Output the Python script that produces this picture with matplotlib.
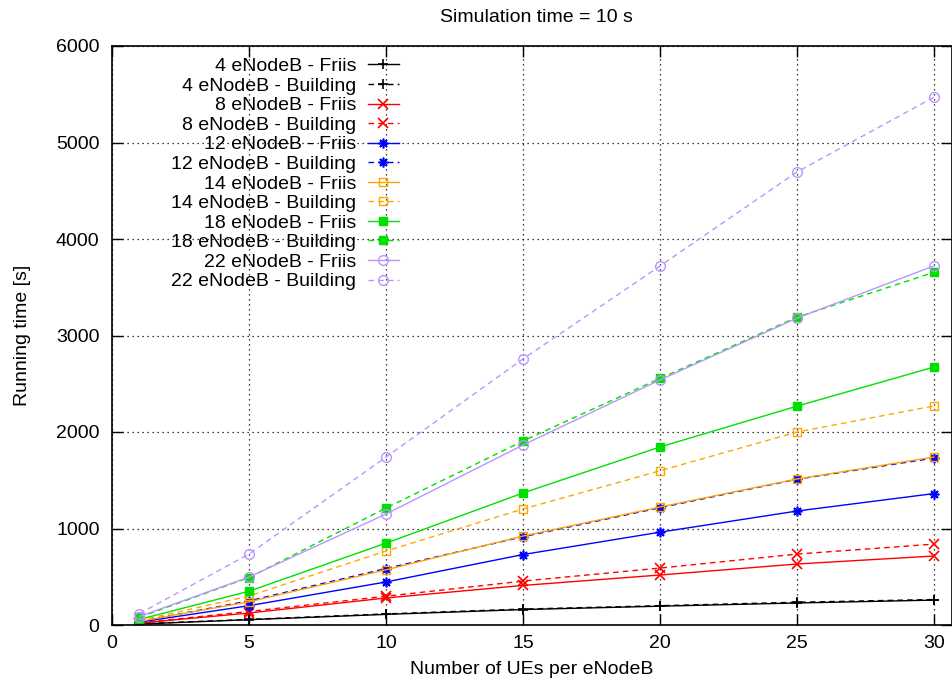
import matplotlib
matplotlib.use("Agg")
import matplotlib.pyplot as plt
from matplotlib.legend_handler import HandlerLine2D
import numpy as np

plt.rcParams['font.family'] = ['Liberation Sans', 'DejaVu Sans']

ues = [1, 5, 10, 15, 20, 25, 30]

enb4_friis = [10, 55, 110, 160, 195, 228, 258]
enb4_building = [12, 58, 115, 165, 200, 236, 264]
enb8_friis = [20, 124, 280, 410, 518, 632, 715]
enb8_building = [22, 140, 298, 455, 590, 735, 838]
enb12_friis = [30, 200, 446, 730, 962, 1181, 1362]
enb12_building = [36, 250, 585, 915, 1215, 1510, 1730]
enb14_friis = [38, 240, 572, 922, 1223, 1513, 1741]
enb14_building = [45, 300, 767, 1202, 1598, 2000, 2270]
enb18_friis = [58, 350, 848, 1368, 1845, 2268, 2673]
enb18_building = [80, 492, 1212, 1907, 2555, 3190, 3655]
enb22_friis = [88, 497, 1150, 1865, 2540, 3180, 3722]
enb22_building = [118, 735, 1740, 2757, 3720, 4695, 5470]

series = [
    ("4 eNodeB - Friis", enb4_friis, "black", "-", "+"),
    ("4 eNodeB - Building", enb4_building, "black", "--", "+"),
    ("8 eNodeB - Friis", enb8_friis, "#ff0000", "-", "x"),
    ("8 eNodeB - Building", enb8_building, "#ff0000", "--", "x"),
    ("12 eNodeB - Friis", enb12_friis, "#0000ff", "-", (8, 2, 0)),
    ("12 eNodeB - Building", enb12_building, "#0000ff", "--", (8, 2, 0)),
    ("14 eNodeB - Friis", enb14_friis, "#ffa500", "-", "s_open"),
    ("14 eNodeB - Building", enb14_building, "#ffa500", "--", "s_open"),
    ("18 eNodeB - Friis", enb18_friis, "#00e000", "-", "s"),
    ("18 eNodeB - Building", enb18_building, "#00e000", "--", "s"),
    ("22 eNodeB - Friis", enb22_friis, "#bb95ff", "-", "o_open"),
    ("22 eNodeB - Building", enb22_building, "#bb95ff", "--", "o_open"),
]


class RightMarkerHandler(HandlerLine2D):
    def get_xdata(self, legend, xdescent, ydescent, width, height, fontsize):
        xdata = np.array([-xdescent, -xdescent + width])
        xm = np.array([-xdescent + width * 0.88])
        return xdata, xm


FS = 14

fig = plt.figure(figsize=(9.52, 6.86), dpi=100)
ax = fig.add_axes([112 / 952, 1 - 625 / 686, 1 - 112 / 952, (625 - 46) / 686])

for label, vals, color, ls, mk in series:
    kw = dict(color=color, lw=1.0, label=label)
    if ls == "--":
        kw["dashes"] = (4, 3)
    else:
        kw["linestyle"] = "-"
    if mk == "s_open":
        kw.update(marker="s", markerfacecolor="none", markeredgecolor=color, markersize=6, markeredgewidth=1.0)
    elif mk == "o_open":
        kw.update(marker="o", markerfacecolor="none", markeredgecolor=color, markersize=7, markeredgewidth=1.0)
    elif mk == "s":
        kw.update(marker="s", markerfacecolor=color, markeredgecolor=color, markersize=6)
    else:
        kw.update(marker=mk, markeredgewidth=1.2, markersize=7)
    ax.plot(ues, vals, **kw)

ax.set_xlim(0, (952 - 112) / ((934 - 112) / 30))
ax.set_ylim(0, 6000)
ax.set_xticks([0, 5, 10, 15, 20, 25, 30])
ax.set_yticks([0, 1000, 2000, 3000, 4000, 5000, 6000])
ax.grid(True, color="black", linestyle=(0, (1, 3)), linewidth=0.9)
ax.tick_params(direction="in", length=8, width=1, labelsize=FS, top=True, right=True)
ax.tick_params(axis="x", pad=7)
ax.tick_params(axis="y", pad=9)
for s in ax.spines.values():
    s.set_linewidth(1.2)

ax.set_xlabel("Number of UEs per eNodeB", fontsize=FS, labelpad=7)
ax.set_ylabel("Running time [s]", fontsize=FS, labelpad=18)
fig.text(536 / 952, 1 - 18 / 686, "Simulation time = 10 s", ha="center", va="center", fontsize=FS)

leg = ax.legend(loc="upper left", bbox_to_anchor=(0.054, 1.0035), frameon=False, markerfirst=False,
                fontsize=FS, handlelength=1.6, labelspacing=0.1, handletextpad=0.6, borderaxespad=0.3,
                handler_map={matplotlib.lines.Line2D: RightMarkerHandler()})
for t in leg.get_texts():
    t.set_ha("right")
for vp in leg._legend_box.get_children()[1].get_children():
    vp.align = "right"

fig.savefig("out.png", dpi=100)
